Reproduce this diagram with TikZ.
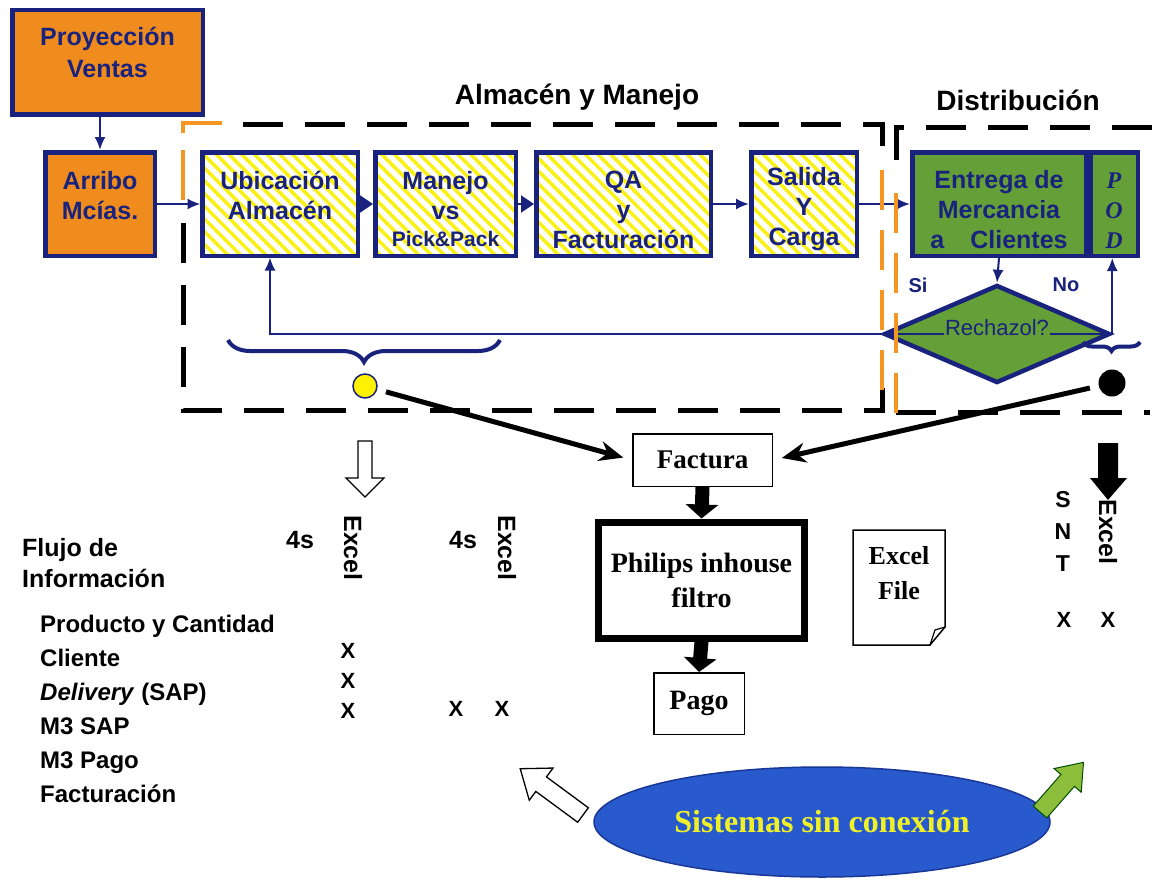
\documentclass[tikz,border=0pt]{standalone}
\usepackage{fontspec}
\setmainfont{Liberation Serif}
\setsansfont{Liberation Sans}
\usetikzlibrary{arrows.meta,shapes.geometric,patterns.meta,decorations.pathreplacing}
\definecolor{navy}{RGB}{25,35,125}
\definecolor{orangefill}{RGB}{240,140,30}
\definecolor{hatchyellow}{RGB}{250,240,20}
\definecolor{greenfill}{RGB}{100,160,55}
\definecolor{dashorange}{RGB}{245,150,35}
\definecolor{ellblue}{RGB}{40,90,205}
\definecolor{ellborder}{RGB}{25,55,150}
\definecolor{ellyellow}{RGB}{240,240,40}
\definecolor{arrgreen}{RGB}{140,190,60}
\newcommand{\topstrut}{\rule{0pt}{29pt}}
\begin{document}
\begin{tikzpicture}[x=1pt,y=-1pt,
  box/.style={draw=navy, line width=4.5pt, text=navy, font=\sffamily\bfseries\fontsize{25}{30}\selectfont, align=center, inner sep=0pt},
  orangebox/.style={box, fill=orangefill},
  hatchbox/.style={box, pattern={Lines[angle=-45,distance=9pt,line width=3.5pt]}, pattern color=hatchyellow},
  greenbox/.style={box, fill=greenfill},
  fb/.style={draw=navy, line width=2pt, -{Latex[length=13pt,width=11pt]}},
  tri/.style={draw=navy, line width=2pt, -{Triangle[length=13pt,width=17pt]}},
  thickarr/.style={draw=black, line width=5pt, -{Stealth[length=24pt,width=20pt]}, shorten <=9pt, shorten >=9pt},
  blockarr/.style={draw=black, line width=14pt, -{Triangle[length=14pt,width=32pt]}},
  blackdash/.style={draw=black, line width=5pt, dash pattern=on 40pt off 22pt},
  orangedash/.style={draw=dashorange, line width=4.5pt, dash pattern=on 40pt off 20pt},
  wbox/.style={draw=black, line width=1.5pt, font=\rmfamily\bfseries\fontsize{27}{36}\selectfont, align=center, inner sep=0pt},
  title/.style={font=\sffamily\bfseries\fontsize{28}{32}\selectfont, text=black},
  info/.style={font=\sffamily\bfseries\fontsize{22}{26}\selectfont, text=black, inner sep=0pt},
  vexcel/.style={info, rotate=-90, font=\sffamily\bfseries\fontsize{25}{28}\selectfont}
]
\fill[white] (0,0) rectangle (1153,880);
\useasboundingbox (0,0) rectangle (1153,880);

% titles
\node[title] (t1) at (577,97) {Almacén y Manejo};
\node[title] (t2) at (1018,100) {Distribución};

% dashed region frames
\draw[blackdash] (243,125) -- (882,125) -- (882,152);
\draw[blackdash] (882,388) -- (882,410) -- (183,410) -- (183,215);
\draw[blackdash] (896,160) -- (896,128) -- (1153,128);
\draw[blackdash] (896,412) -- (1150,412);
\draw[draw=dashorange, line width=4.5pt] (222,123) -- (183,123) -- (183,133);
\draw[draw=dashorange, line width=4.5pt] (183,150) -- (183,200);

% process boxes
\node[orangebox, minimum width=190.5, minimum height=104.5, font=\sffamily\bfseries\fontsize{25}{32}\selectfont] (proy) at (107.5,62.5) {Proyección\\Ventas\\[-12pt]\mbox{}};
\node[orangebox, minimum width=109.5, minimum height=103.5] (arribo) at (100,204) {Arribo\\Mcías.\\[-12pt]\mbox{}};
\node[hatchbox, minimum width=155.5, minimum height=103.5] (ubic) at (280,204) {Ubicación\\Almacén\\[-12pt]\mbox{}};
\node[hatchbox, minimum width=140.5, minimum height=103.5] (manejo) at (445.5,204) {\topstrut Manejo\\vs\\[-3pt]{\fontsize{21}{24}\selectfont Pick\&Pack}};
\node[hatchbox, minimum width=174.5, minimum height=103.5] (qa) at (623.5,204) {\topstrut QA\\y\\Facturación};
\node[hatchbox, minimum width=105.5, minimum height=103.5] (salida) at (804,204) {\topstrut Salida\\Y\\Carga};
\node[greenbox, minimum width=173.5, minimum height=103.5] (entrega) at (999,204) {\topstrut Entrega de\\Mercancia\\a\hspace{26pt}Clientes};
\node[greenbox, minimum width=47.5, minimum height=103.5, font=\rmfamily\bfseries\itshape\fontsize{24}{30}\selectfont] (pod) at (1114,204) {\topstrut P\\O\\D};
\node[draw=navy, line width=4.5pt, fill=greenfill, diamond, minimum width=226, minimum height=98, inner sep=0pt] (dia) at (997,334) {};

% connectors in the process row
\draw[fb] (arribo.north |- proy.south) -- (arribo.north);
\draw[fb] (arribo.east) -- (ubic.west);
\draw[tri] (ubic.east) -- (manejo.west);
\draw[tri] (manejo.east) -- (qa.west);
\draw[fb] (qa.east) -- (salida.west);
\draw[fb] (salida.east) -- (entrega.west);
\draw[fb] (entrega.south) -- (dia.north);
\draw[fb] (dia.east) -- (dia.east |- pod.south);
\draw[fb] (dia.east) -- (dia.west);
\draw[fb] (dia.west) -| ([xshift=-10pt]ubic.south);
\node[fill=greenfill, text=navy, font=\sffamily\fontsize{22}{26}\selectfont, inner sep=1pt] (rech) at (997,328) {Rechazol?};
\node[text=navy, font=\sffamily\bfseries\fontsize{20}{24}\selectfont] (si) at (918,285) {Si};
\node[text=navy, font=\sffamily\bfseries\fontsize{20}{24}\selectfont] (no) at (1066,285) {No};

% orange dashed dividers
\draw[orangedash] (882,170) -- (882,392);
\draw[orangedash] (896,193) -- (896,414);

% braces and dots
\draw[navy, line width=4pt, decorate, decoration={brace, mirror, amplitude=22pt}] (228,340) -- (500,340);
\node[circle, draw=navy, line width=1.5pt, fill=yellow, minimum size=24pt, inner sep=0pt] (yc) at (365,386) {};
\draw[navy, line width=4pt, decorate, decoration={brace, mirror, amplitude=9pt}] (1083,342) -- (1140,342);
\node[circle, fill=black, minimum size=27pt, inner sep=0pt] (bc) at (1112,383) {};

% invoice flow
\node[wbox, minimum width=139.5, minimum height=52.5] (factura) at (702.5,460) {Factura};
\node[wbox, line width=7pt, minimum width=206, minimum height=116, font=\rmfamily\bfseries\fontsize{28}{35}\selectfont] (philips) at (701.5,580) {Philips inhouse\\filtro};
\node[wbox, minimum width=90.5, minimum height=61.5, font=\rmfamily\bfseries\fontsize{28}{34}\selectfont] (pago) at (699,703.5) {Pago};
\draw[thickarr] (yc) -- (factura.west);
\draw[thickarr] (bc) -- (factura.east);
\draw[blockarr] (factura.south) -- (philips.north);
\draw[blockarr] (philips.south) -- (pago.north);

% Excel file document
\draw[black, line width=1.5pt, fill=white] (853,530) -- (945,530) -- (945,627) -- (930,645) -- (853,645) -- cycle;
\draw[black, line width=1.2pt] (945,627) -- (935,630) -- (930,645);
\node[font=\rmfamily\bfseries\fontsize{26}{35}\selectfont, align=center, inner sep=0pt] (xf) at (899,573) {Excel\\File};

% down arrows
\draw[black, line width=1.3pt, fill=white] (358,441) -- (372,441) -- (372,478) -- (384,478) -- (365,497) -- (346,478) -- (358,478) -- cycle;
\fill[black] (1098,443) -- (1118,443) -- (1118,478) -- (1127,478) -- (1108,500) -- (1090,478) -- (1098,478) -- cycle;

% information table
\node[info, anchor=west, align=left, font=\sffamily\bfseries\fontsize{25}{31}\selectfont] (flujo) at (22,563) {Flujo de\\Información};
\node[info, font=\sffamily\bfseries\fontsize{25}{28}\selectfont] (s1) at (300,540) {4s};
\node[info, font=\sffamily\bfseries\fontsize{25}{28}\selectfont] (s2) at (463,540) {4s};
\node[vexcel] (e1) at (353,548) {Excel};
\node[vexcel] (e2) at (507,548) {Excel};
\node[vexcel] (e3) at (1108,532) {Excel};
\node[info, align=center, font=\sffamily\bfseries\fontsize{23}{32}\selectfont] (snt) at (1063,531) {S\\N\\T};
\node[info, anchor=west, align=left, font=\sffamily\bfseries\fontsize{24}{34}\selectfont] (list) at (40,709) {Producto y Cantidad\\Cliente\\\textit{Delivery} (SAP)\\M3 SAP\\M3 Pago\\Facturación};
\node[info] (x1) at (348,651) {X};
\node[info] (x2) at (348,681) {X};
\node[info] (x3) at (348,711) {X};
\node[info] (x4) at (456,709) {X};
\node[info] (x5) at (502,709) {X};
\node[info] (x6) at (1064,620) {X};
\node[info] (x7) at (1108,620) {X};

% systems ellipse and arrows
\node[ellipse, draw=ellborder, line width=1.5pt, fill=ellblue, minimum width=456, minimum height=110, text=ellyellow, font=\rmfamily\bfseries\fontsize{32}{36}\selectfont] (sis) at (822,822) {Sistemas sin conexión};
\begin{scope}[shift={(583,815)}, rotate=143.6]
\draw[black, line width=1.3pt, fill=white] (0,-9) -- (52,-9) -- (52,-20) -- (78,0) -- (52,20) -- (52,9) -- (0,9) -- cycle;
\end{scope}
\begin{scope}[shift={(1040,812)}, rotate=48.8]
\draw[black!70!green, line width=1pt, fill=arrgreen] (0,-9) -- (42,-9) -- (42,-18) -- (66,0) -- (42,18) -- (42,9) -- (0,9) -- cycle;
\end{scope}
\end{tikzpicture}
\end{document}
